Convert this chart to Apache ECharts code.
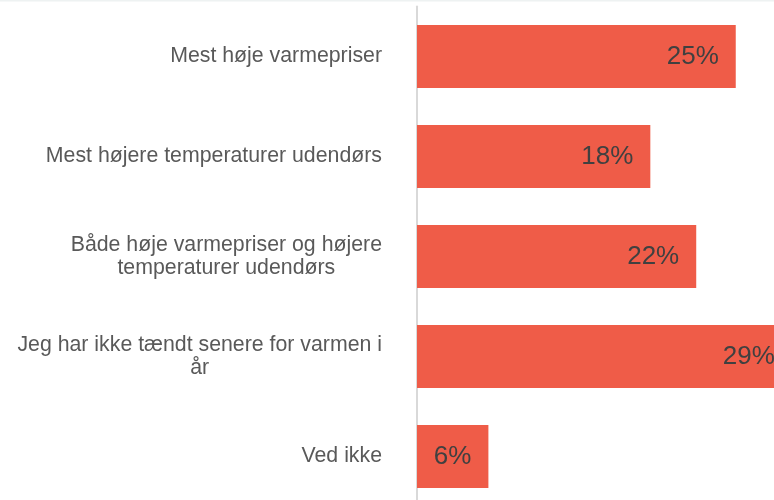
<!DOCTYPE html>
<html>
<head>
<meta charset="utf-8">
<script src="https://cdn.jsdelivr.net/npm/echarts@6/dist/echarts.min.js"></script>
<style>
html,body{margin:0;padding:0;background:#fff;overflow:hidden;width:774px;height:500px;}
#chart{width:800px;height:507px;}
</style>
</head>
<body>
<div id="chart"></div>
<script>
const categories = [
  "Mest høje varmepriser",
  "Mest højere temperaturer udendørs",
  "Både høje varmepriser og højere\ntemperaturer udendørs",
  "Jeg har ikke tændt senere for varmen i\når",
  "Ved ikke"
];
const values = [25.0, 18.3, 21.9, 29.4, 5.6];

const FONT = '"Liberation Sans", Arial, sans-serif';
const chart = echarts.init(document.getElementById('chart'), null, {renderer: 'canvas'});
chart.setOption({
  animation: false,
  backgroundColor: '#ffffff',
  graphic: [{
    type: 'rect', left: 0, top: 0, shape: {width: 800, height: 1.5},
    style: {fill: '#eef2f2'}, silent: true
  }],
  grid: {left: 417, top: 6.5, width: 382.5, height: 500, containLabel: false},
  xAxis: {
    type: 'value', min: 0, max: 30, show: false
  },
  yAxis: {
    type: 'category',
    data: categories,
    inverse: true,
    axisLine: {show: true, lineStyle: {color: '#d9d9d9', width: 2}},
    axisTick: {show: false},
    splitLine: {show: false},
    axisLabel: {
      margin: 35,
      align: 'right',
      formatter: function (v) {
        return v.split('\n').map(function (l) { return '{c|' + l + '}'; }).join('\n');
      },
      rich: {
        c: {align: 'center', fontSize: 21.3, lineHeight: 23, color: '#595959', fontFamily: FONT}
      }
    }
  },
  series: [{
    type: 'bar',
    data: values,
    barWidth: 63,
    itemStyle: {color: '#ef5c48'},
    label: {
      show: true,
      position: 'insideRight',
      distance: 17,
      formatter: function (p) { return Math.round(p.value) + '%'; },
      fontSize: 26,
      color: '#404040',
      fontFamily: FONT
    }
  }]
});
</script>
</body>
</html>
